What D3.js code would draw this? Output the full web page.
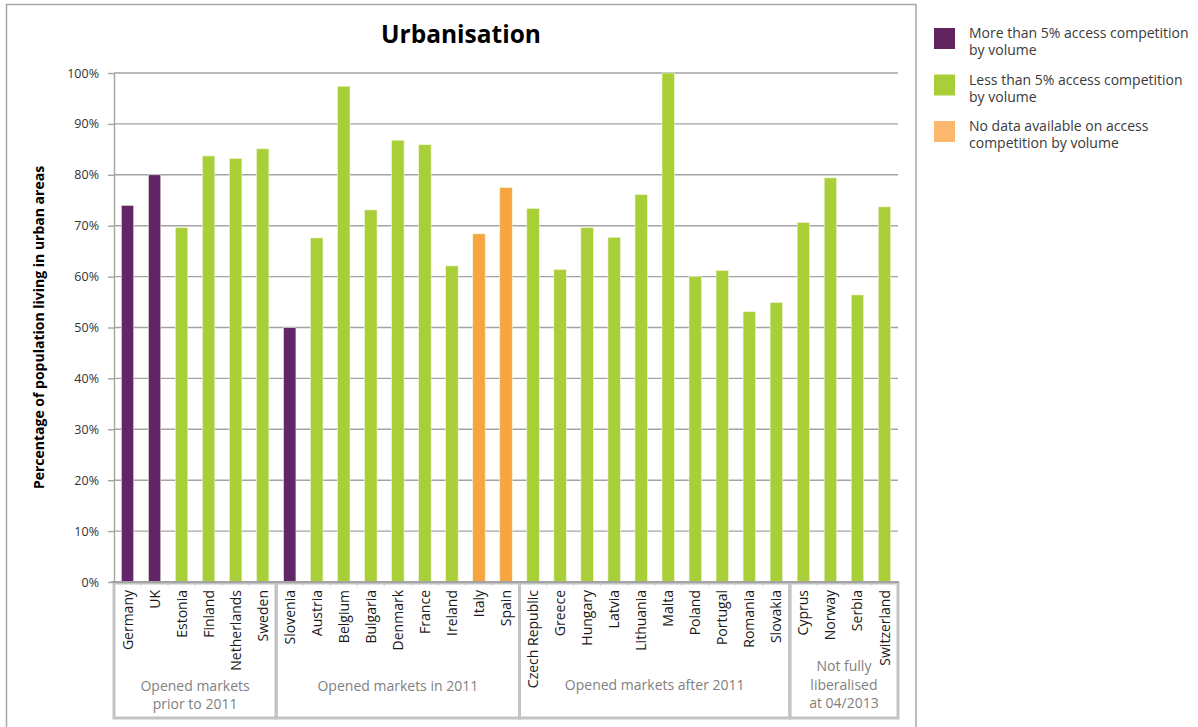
<!DOCTYPE html>
<html>
<head>
<meta charset="utf-8">
<script src="https://cdn.jsdelivr.net/npm/d3@7"></script>
<style>
  html, body { margin: 0; padding: 0; background: #fff; }
  svg { display: block; font-family: "Open Sans", "DejaVu Sans", sans-serif; }
</style>
</head>
<body>
<svg id="chart" width="1198" height="727"></svg>
<script>
// Share of population living in urban areas, by country
const countries = ["Germany", "UK", "Estonia", "Finland", "Netherlands", "Sweden",
  "Slovenia", "Austria", "Belgium", "Bulgaria", "Denmark", "France", "Ireland", "Italy", "Spain",
  "Czech Republic", "Greece", "Hungary", "Latvia", "Lithuania", "Malta", "Poland", "Portugal", "Romania", "Slovakia",
  "Cyprus", "Norway", "Serbia", "Switzerland"];
const urbanPct = [74, 80, 69.6, 83.7, 83.2, 85.1,
  50, 67.6, 97.4, 73.1, 86.8, 85.9, 62.1, 68.4, 77.5,
  73.4, 61.4, 69.6, 67.7, 76.1, 100, 60, 61.2, 53.1, 54.9,
  70.6, 79.4, 56.4, 73.7];
// access competition class: "more", "less", "nodata"
const accessClass = ["more", "more", "less", "less", "less", "less",
  "more", "less", "less", "less", "less", "less", "less", "nodata", "nodata",
  "less", "less", "less", "less", "less", "less", "less", "less", "less", "less",
  "less", "less", "less", "less"];
const groupLabels = [["Opened markets", "prior to 2011"], ["Opened markets in 2011"],
  ["Opened markets after 2011"], ["Not fully", "liberalised", "at 04/2013"]];
const groupSizes = [6, 9, 10, 4];
const yTicks = [0, 10, 20, 30, 40, 50, 60, 70, 80, 90, 100];
const legendKeys = ["more", "less", "nodata"];
const legendLabels = [["More than 5% access competition", "by volume"],
  ["Less than 5% access competition", "by volume"],
  ["No data available on access", "competition by volume"]];

const barColor = { more: "#622567", less: "#a9cf38", nodata: "#f6a540" };
const keyColor = { more: "#62245f", less: "#a8ce3a", nodata: "#fbb86c" };

const svg = d3.select("#chart");
const plot = { left: 114, right: 898, top: 73, bottom: 582 };

const x = d3.scaleBand()
  .domain(countries)
  .range([plot.left, plot.right])
  .paddingInner(0.54)
  .paddingOuter(0.27);
const y = d3.scaleLinear().domain([0, 100]).range([plot.bottom, plot.top]);

// outer frame of the chart area
svg.append("rect")
  .attr("x", 6.5).attr("y", 4.5).attr("width", 909.5).attr("height", 740)
  .attr("fill", "none").attr("stroke", "#a8a8a8").attr("stroke-width", 1.5);

// title
svg.append("text")
  .attr("x", 461).attr("y", 43)
  .attr("text-anchor", "middle")
  .attr("font-size", 24.5).attr("font-weight", 700).attr("fill", "#000")
  .text("Urbanisation");

// horizontal gridlines
svg.append("g").selectAll("line")
  .data(yTicks.filter(d => d > 0))
  .join("line")
  .attr("x1", plot.left).attr("x2", plot.right)
  .attr("y1", d => y(d)).attr("y2", d => y(d))
  .attr("stroke", "#a3a3a3").attr("stroke-width", 1.4);

// y axis
const yAxis = svg.append("g")
  .attr("transform", `translate(${plot.left},0)`)
  .call(d3.axisLeft(y).tickValues(yTicks).tickFormat(d => d + "%")
    .tickSize(6).tickSizeOuter(0).tickPadding(9));
yAxis.select(".domain").attr("stroke", "#a3a3a3").attr("stroke-width", 1.4);
yAxis.selectAll(".tick line").attr("stroke", "#a3a3a3").attr("stroke-width", 1.4);
yAxis.selectAll(".tick text")
  .attr("font-family", "'Open Sans', sans-serif")
  .attr("font-size", 12.5).attr("fill", "#333");

// y axis title
svg.append("text")
  .attr("transform", `translate(44,${(plot.top + plot.bottom) / 2}) rotate(-90)`)
  .attr("text-anchor", "middle")
  .attr("font-size", 14).attr("font-weight", 700).attr("fill", "#000")
  .text("Percentage of population living in urban areas");

// bars
svg.append("g").selectAll("rect")
  .data(countries.map((c, i) => ({ c, v: urbanPct[i], k: accessClass[i] })))
  .join("rect")
  .attr("x", d => x(d.c))
  .attr("y", d => y(d.v))
  .attr("width", x.bandwidth())
  .attr("height", d => y(0) - y(d.v))
  .attr("fill", d => barColor[d.k])
  .attr("stroke", "#eef6d8").attr("stroke-width", 0.6);

// category group boxes
let start = 0;
const groupSpans = groupSizes.map(n => {
  const s = { x0: plot.left + start * x.step(), x1: plot.left + (start + n) * x.step() };
  start += n;
  return s;
});
const gBox = svg.append("g");
gBox.selectAll("rect")
  .data(groupSpans)
  .join("rect")
  .attr("x", d => d.x0).attr("y", plot.bottom + 1)
  .attr("width", d => d.x1 - d.x0).attr("height", 135)
  .attr("fill", "none").attr("stroke", "#c3c3c3").attr("stroke-width", 3);

// small ticks between categories
svg.append("g").selectAll("line")
  .data(d3.range(1, countries.length))
  .join("line")
  .attr("x1", i => plot.left + i * x.step()).attr("x2", i => plot.left + i * x.step())
  .attr("y1", plot.bottom).attr("y2", plot.bottom + 4)
  .attr("stroke", "#d0d0d0").attr("stroke-width", 1);

// x axis with rotated country names
const xAxis = svg.append("g")
  .attr("transform", `translate(0,${plot.bottom})`)
  .call(d3.axisBottom(x).tickSize(0).tickSizeOuter(0));
xAxis.select(".domain").attr("stroke", "#a3a3a3").attr("stroke-width", 2)
  .attr("d", `M${plot.left - 3},0H${plot.right + 1}`);
xAxis.selectAll(".tick text")
  .attr("transform", "rotate(-90)")
  .attr("x", -8).attr("y", 0).attr("dy", "0.36em")
  .attr("text-anchor", "end")
  .attr("font-family", "'Open Sans', sans-serif")
  .attr("font-size", 14).attr("fill", "#1a1a1a");

// group labels
const gLabel = svg.append("g");
const groupLabelY = [[691, 709], [691], [690], [671, 690, 708]];
groupLabels.forEach((lines, gi) => {
  const cx = (groupSpans[gi].x0 + groupSpans[gi].x1) / 2;
  lines.forEach((t, li) => {
    gLabel.append("text")
      .attr("x", cx).attr("y", groupLabelY[gi][li])
      .attr("text-anchor", "middle")
      .attr("font-size", 14).attr("fill", "#7f7f7f")
      .text(t);
  });
});

// legend
const legend = svg.append("g").attr("transform", "translate(934,28)");
legendKeys.forEach((k, i) => {
  const g = legend.append("g").attr("transform", `translate(0,${i * 46.5})`);
  g.append("rect").attr("width", 21).attr("height", 21).attr("fill", keyColor[k]);
  legendLabels[i].forEach((t, li) => {
    g.append("text")
      .attr("x", 35).attr("y", 10 + li * 17)
      .attr("font-size", 14).attr("fill", "#3a3a3a")
      .text(t);
  });
});
</script>
</body>
</html>
